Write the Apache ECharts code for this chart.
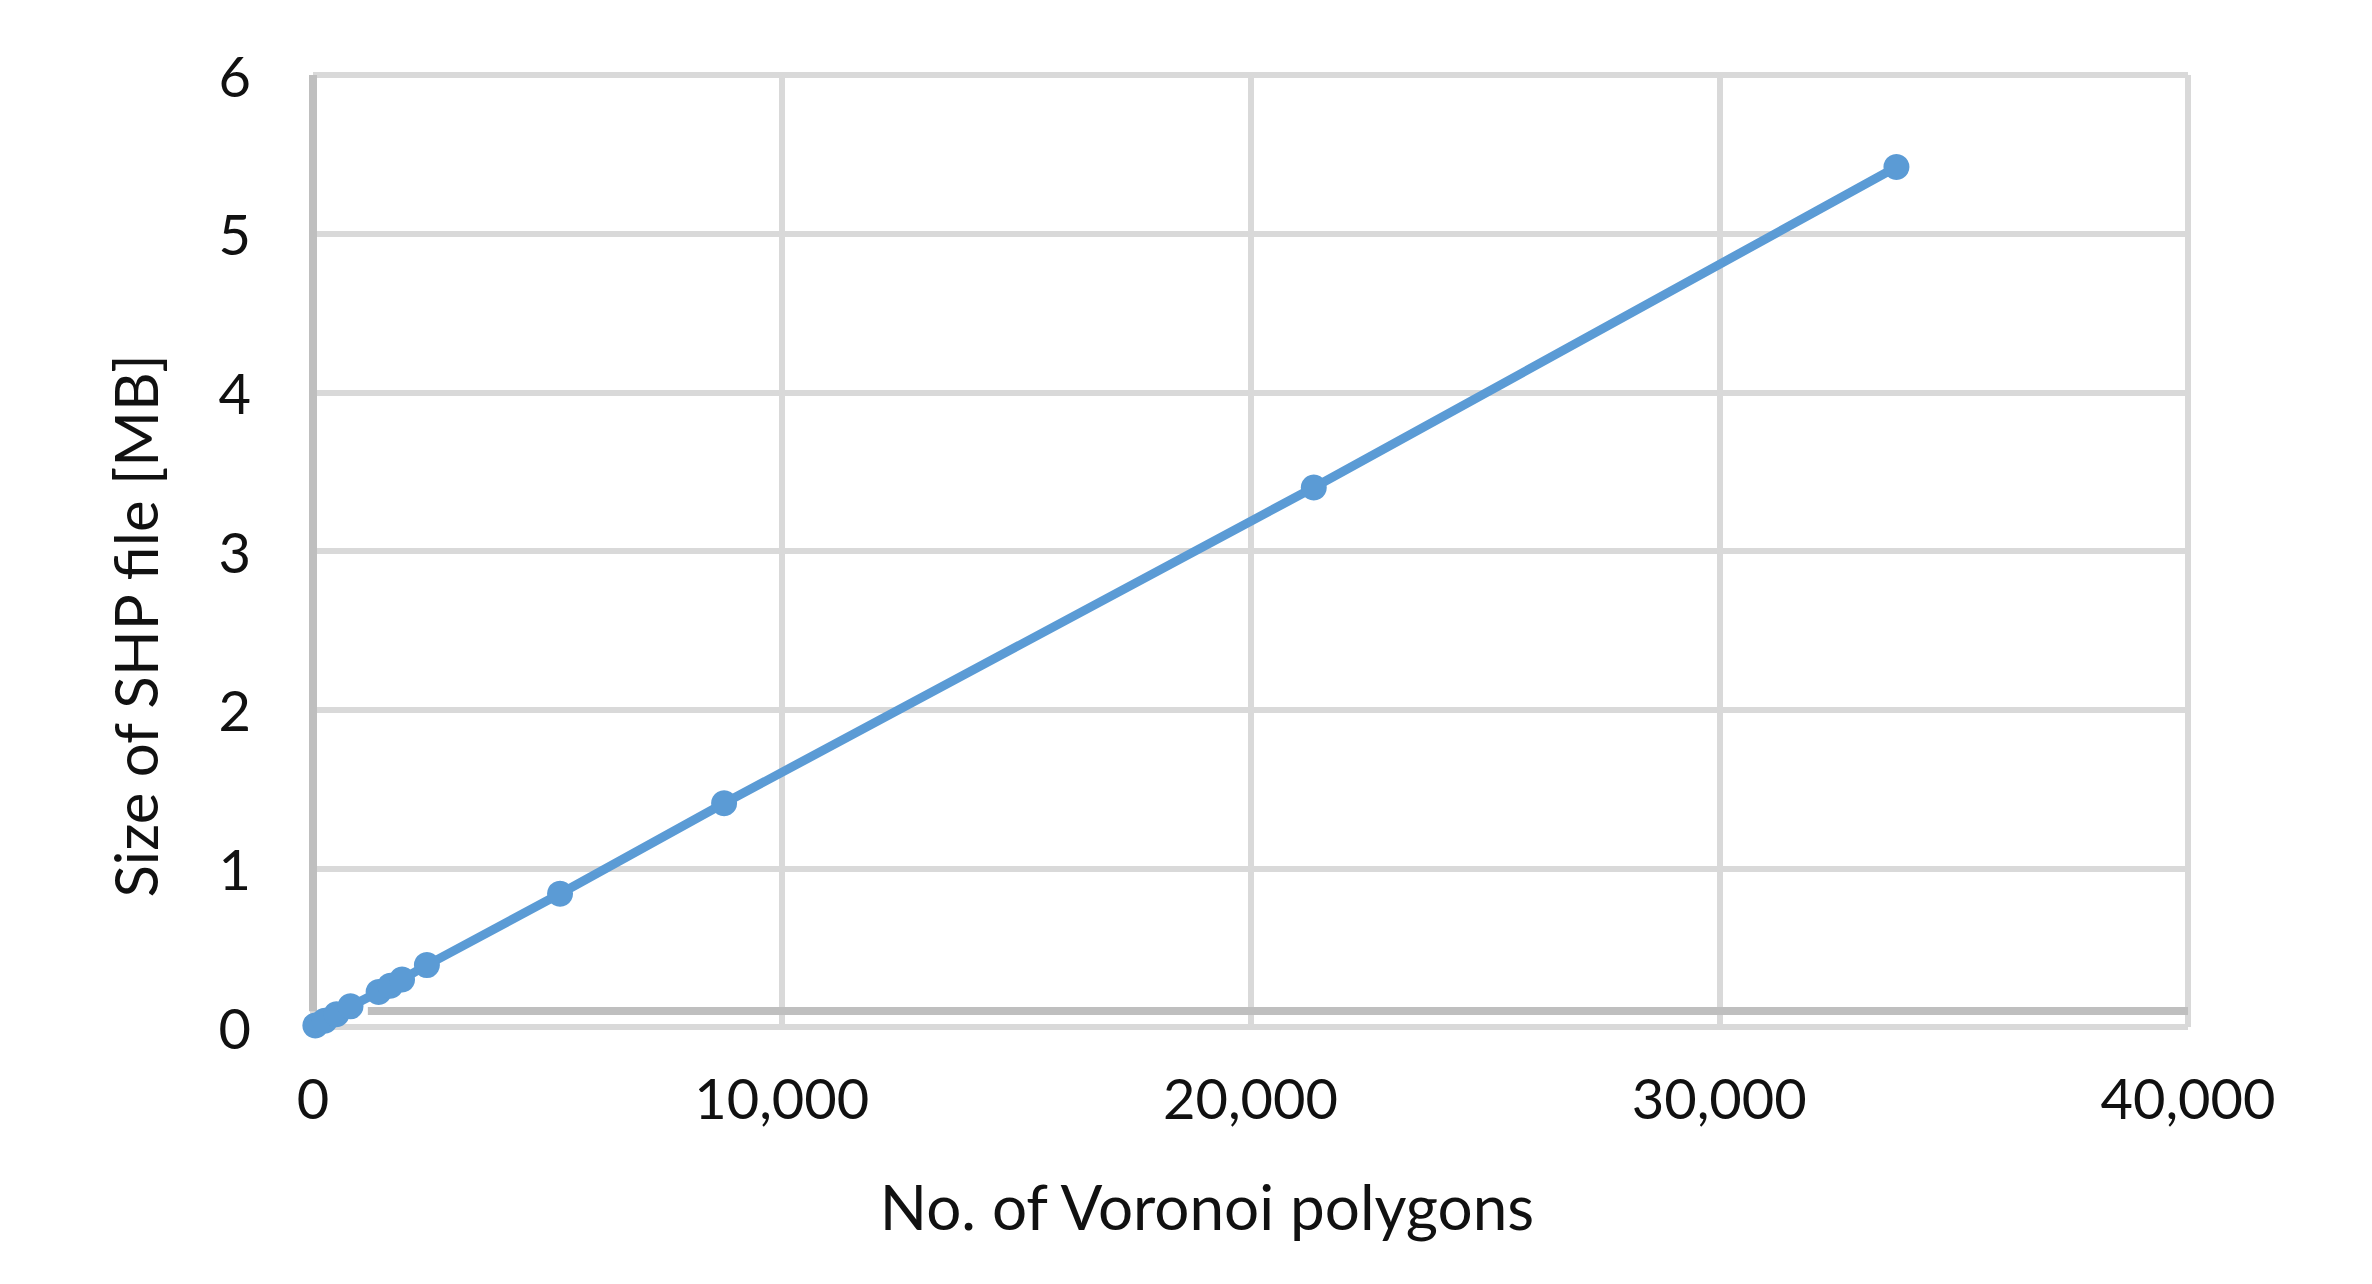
<!DOCTYPE html>
<html>
<head>
<meta charset="utf-8">
<script src="https://cdn.jsdelivr.net/npm/echarts@6/dist/echarts.min.js"></script>
<style>
  html, body { margin: 0; padding: 0; background: #fff; }
  #chart { width: 2372px; height: 1284px; }
</style>
</head>
<body>
<div id="chart"></div>
<script>
// Data
const polygonCounts = [50, 250, 500, 800, 1400, 1650, 1900, 2430, 5270, 8770, 21350, 33780];
const shpSizesMB    = [0.01, 0.04, 0.08, 0.13, 0.22, 0.26, 0.30, 0.39, 0.84, 1.41, 3.40, 5.42];
const xTicks = [0, 10000, 20000, 30000, 40000];
const yTicks = [0, 1, 2, 3, 4, 5, 6];
const xTitle = 'No. of Voronoi polygons';
const yTitle = 'Size of SHP file [MB]';
// value at which the horizontal axis line crosses in the reference
const axisCrossY = 0.1;
const axisLineStartX = 1170;

const points = polygonCounts.map((x, i) => [x, shpSizesMB[i]]);
const FONT = 'Lato, "Open Sans", sans-serif';

const chart = echarts.init(document.getElementById('chart'), null, { renderer: 'svg' });
chart.setOption({
  animation: false,
  backgroundColor: '#ffffff',
  grid: { left: 313, right: 184, top: 75, bottom: 257, containLabel: false },
  xAxis: {
    type: 'value',
    min: xTicks[0],
    max: xTicks[xTicks.length - 1],
    interval: xTicks[1] - xTicks[0],
    axisLine: { show: false },
    axisTick: { show: false },
    splitLine: { show: true, lineStyle: { color: '#D9D9D9', width: 6 } },
    axisLabel: {
      margin: 42,
      fontFamily: FONT, fontSize: 56, color: '#111',
      formatter: v => v.toLocaleString('en-US')
    }
  },
  yAxis: {
    type: 'value',
    min: yTicks[0],
    max: yTicks[yTicks.length - 1],
    interval: yTicks[1] - yTicks[0],
    axisLine: { show: false },
    axisTick: { show: false },
    splitLine: { show: true, lineStyle: { color: '#D9D9D9', width: 6 } },
    axisLabel: { margin: 62, fontFamily: FONT, fontSize: 56, color: '#111' }
  },
  graphic: [
    {
      type: 'text',
      x: 1207, y: 1206,
      style: { text: xTitle, font: '62px ' + FONT, fill: '#111', align: 'center', verticalAlign: 'middle' }
    },
    {
      type: 'text',
      x: 135, y: 626,
      rotation: Math.PI / 2,
      style: { text: yTitle, font: '60px ' + FONT, fill: '#111', align: 'center', verticalAlign: 'middle' }
    }
  ],
  series: [{
    type: 'line',
    data: points,
    z: 3,
    symbol: 'circle',
    symbolSize: 26,
    showSymbol: true,
    lineStyle: { color: '#5B9BD5', width: 9 },
    itemStyle: { color: '#5B9BD5' },
    markLine: {
      z: 1,
      silent: true,
      symbol: ['none', 'none'],
      label: { show: false },
      lineStyle: { color: '#BFBFBF', width: 8, type: 'solid' },
      data: [
        [{ coord: [axisLineStartX, axisCrossY] }, { coord: [xTicks[xTicks.length - 1], axisCrossY] }],
        [{ coord: [xTicks[0], axisCrossY] }, { coord: [xTicks[0], yTicks[yTicks.length - 1]] }]
      ]
    }
  }]
});
</script>
</body>
</html>
